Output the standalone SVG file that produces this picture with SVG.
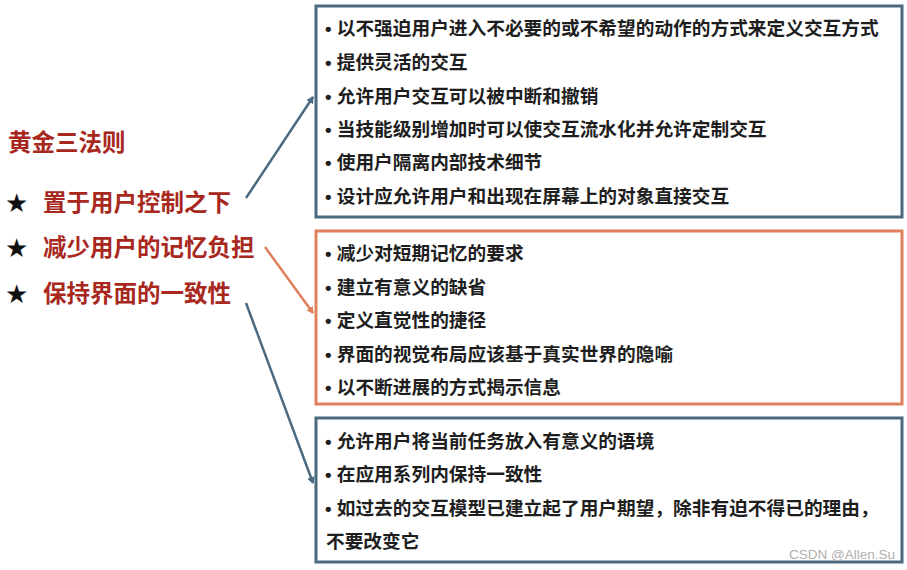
<svg xmlns="http://www.w3.org/2000/svg" width="907" height="570" viewBox="0 0 907 570">
<style>
.box{fill:#fff;stroke-width:3}
.blue{stroke:#4b6a80}
.orange{stroke:#e0805c}
.t{font-family:"Liberation Sans","Noto Sans CJK SC",sans-serif;font-size:18.7px;font-weight:bold;fill:#1e1e1e}
.h{font-family:"Liberation Sans","Noto Sans CJK SC",sans-serif;font-weight:bold;fill:#a8281e}
.star{font-family:"DejaVu Sans",sans-serif;font-size:26px;fill:#111}
.c{fill:none;stroke-width:2.5}
</style>
<defs>
<marker id="ab" markerWidth="8" markerHeight="8" refX="6" refY="4" orient="auto" markerUnits="userSpaceOnUse"><path d="M0,0 L7,4 L0,8 Z" fill="#4b6a80"/></marker>
<marker id="ao" markerWidth="8" markerHeight="8" refX="6" refY="4" orient="auto" markerUnits="userSpaceOnUse"><path d="M0,0 L7,4 L0,8 Z" fill="#e0805c"/></marker>
</defs>
<rect width="907" height="570" fill="#fff"/>
<g id="left">
<text class="h" x="8" y="151" font-size="23.5">黄金三法则</text>
<text class="star" x="5" y="212">★</text>
<text class="h" x="43" y="211" font-size="23.5">置于用户控制之下</text>
<text class="star" x="5" y="257">★</text>
<text class="h" x="43" y="256" font-size="23.5">减少用户的记忆负担</text>
<text class="star" x="5" y="303">★</text>
<text class="h" x="43" y="302" font-size="23.5">保持界面的一致性</text>
</g>
<g id="box1">
<rect class="box blue" x="316" y="6" width="586" height="211"/>
<text class="t" x="325" y="35">• 以不强迫用户进入不必要的或不希望的动作的方式来定义交互方式</text>
<text class="t" x="325" y="69">• 提供灵活的交互</text>
<text class="t" x="325" y="103">• 允许用户交互可以被中断和撤销</text>
<text class="t" x="325" y="136">• 当技能级别增加时可以使交互流水化并允许定制交互</text>
<text class="t" x="325" y="169">• 使用户隔离内部技术细节</text>
<text class="t" x="325" y="203">• 设计应允许用户和出现在屏幕上的对象直接交互</text>
</g>
<g id="box2">
<rect class="box orange" x="316" y="231" width="586" height="173"/>
<text class="t" x="325" y="260">• 减少对短期记忆的要求</text>
<text class="t" x="325" y="294">• 建立有意义的缺省</text>
<text class="t" x="325" y="327">• 定义直觉性的捷径</text>
<text class="t" x="325" y="361">• 界面的视觉布局应该基于真实世界的隐喻</text>
<text class="t" x="325" y="394">• 以不断进展的方式揭示信息</text>
</g>
<g id="box3">
<rect class="box blue" x="316" y="418" width="586" height="144"/>
<text class="t" x="325" y="448">• 允许用户将当前任务放入有意义的语境</text>
<text class="t" x="325" y="481">• 在应用系列内保持一致性</text>
<text class="t" x="325" y="515">• 如过去的交互模型已建立起了用户期望，除非有迫不得已的理由，</text>
<text class="t" x="326" y="548">不要改变它</text>
</g>
<g id="connectors">
<line class="c blue" x1="246" y1="198" x2="313" y2="97" marker-end="url(#ab)"/>
<line class="c orange" x1="265" y1="247" x2="313" y2="313" marker-end="url(#ao)"/>
<line class="c blue" x1="246" y1="303" x2="313" y2="483" marker-end="url(#ab)"/>
</g>
<text x="789" y="559" font-family="Liberation Sans,sans-serif" font-size="13.5" fill="#b0b0b0">CSDN @Allen.Su</text>
</svg>
